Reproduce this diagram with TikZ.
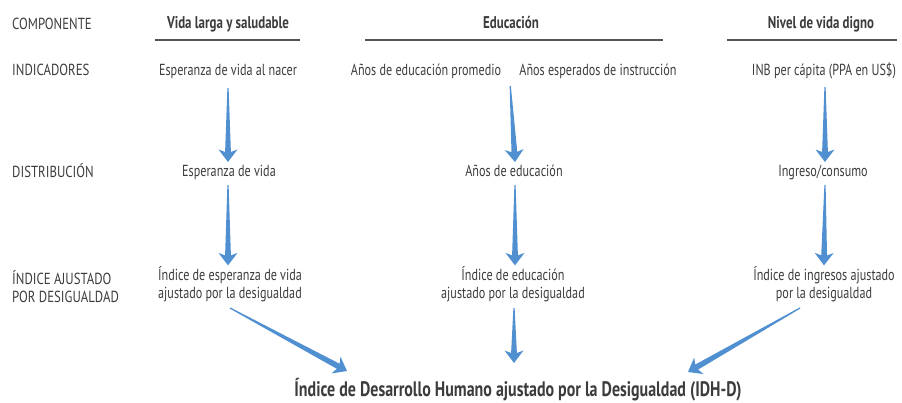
\documentclass[tikz,border=0pt]{standalone}
\usepackage{fontspec}
\setmainfont{PT Sans}[FakeStretch=0.76]
\newfontfamily\lblfont{PT Sans}[FakeStretch=0.8]
\usetikzlibrary{calc}
\definecolor{txt}{RGB}{60,60,60}
\definecolor{ablue}{RGB}{80,144,208}
\definecolor{rulec}{RGB}{85,85,85}
% tapered arrow from #1 to #2
\newcommand\tarrow[2]{%
  \coordinate (ta) at (#1);
  \coordinate (tb) at (#2);
  \coordinate (tc) at ($(tb)!12.5pt!(ta)$);
  \coordinate (td) at ($(tb)!10pt!(ta)$);
  \fill[ablue] ($(ta)!0.6pt!90:(tb)$) -- ($(td)!2.9pt!-90:(ta)$) -- ($(tc)!9.5pt!-90:(ta)$) -- (tb)
    -- ($(tc)!9.5pt!90:(ta)$) -- ($(td)!2.9pt!90:(ta)$) -- ($(ta)!0.6pt!-90:(tb)$) -- cycle;
}
\begin{document}
\begin{tikzpicture}[x=1pt,y=-1pt,
  every node/.style={text=txt, inner sep=0pt, anchor=base},
  lbl/.style={anchor=base west, font=\lblfont\fontsize{16}{18}\selectfont},
  item/.style={font=\fontsize{16}{17.5}\selectfont, align=center},
  head/.style={font=\fontsize{17}{20}\selectfont\bfseries},
  ttl/.style={font=\fontsize{21}{24}\selectfont\bfseries},
  hrule/.style={draw=rulec, line width=1.4pt}]
\useasboundingbox (0,0) rectangle (902,402);

% row labels
\node[lbl] (lcomp) at (12,29) {COMPONENTE};
\node[lbl] (lind) at (12,75) {INDICADORES};
\node[lbl] (ldist) at (12,177) {DISTRIBUCIÓN};
\node[lbl, align=left] (lidx) at (12,302) {ÍNDICE AJUSTADO\\POR DESIGUALDAD};

% headers
\node[head] (h1) at (228,28) {Vida larga y saludable};
\node[head] (h2) at (511,28) {Educación};
\node[head] (h3) at (821,28) {Nivel de vida digno};
\draw[hrule] (155,40) -- (300,40);
\draw[hrule] (365,40) -- (663,40);
\draw[hrule] (727,40) -- (897,40);

% indicators
\node[item] (i1) at (228,75) {Esperanza de vida al nacer};
\node[item] (i2a) at (426,75) {Años de educación promedio};
\node[item] (i2b) at (598,75) {Años esperados de instrucción};
\node[item] (i3) at (824,75) {INB per cápita (PPA en US\$)};

% distribution
\node[item] (d1) at (229,176) {Esperanza de vida};
\node[item] (d2) at (514,176) {Años de educación};
\node[item] (d3) at (823,176) {Ingreso/consumo};

% adjusted indices (base = last line)
\node[item] (x1) at (230,298) {Índice de esperanza de vida\\ajustado por la desigualdad};
\node[item] (x2) at (513,298) {Índice de educación\\ajustado por la desigualdad};
\node[item] (x3) at (824,298) {Índice de ingresos ajustado\\por la desigualdad};

% final
\node[ttl] (final) at (518,396) {Índice de Desarrollo Humano ajustado por la Desigualdad (IDH-D)};

% arrows
\tarrow{$(i1.base)+(0,13)$}{$(d1.base)+(-1,-14)$}
\tarrow{$(d1.base)+(-1,9)$}{$(x1.north)+(-2,-1)$}
\tarrow{$(i2a.base east)!0.5!(i2b.base west)+(0,11)$}{$(d2.base)+(1,-14)$}
\tarrow{$(d2.base)+(1,9)$}{$(x2.north)+(2,-1)$}
\tarrow{$(i3.base)+(1,12)$}{$(d3.base)+(2,-14)$}
\tarrow{$(d3.base)+(2,9)$}{$(x3.north)+(0,-1)$}
\tarrow{$(x1.base)+(0,10)$}{$(final.base)+(-171,-25)$}
\tarrow{$(x2.base)+(1,10)$}{$(final.base)+(-4,-33)$}
\tarrow{$(x3.base)+(-24,10)$}{$(final.base)+(170,-24)$}
\end{tikzpicture}
\end{document}
